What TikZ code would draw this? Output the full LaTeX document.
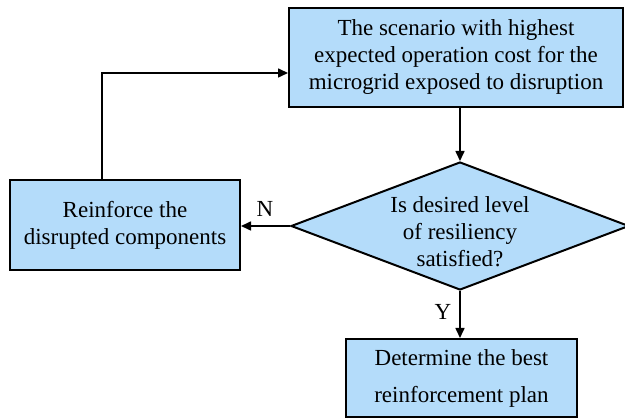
\documentclass[tikz,border=0pt]{standalone}
\usepackage{fontspec}
\setmainfont{Liberation Serif}
\usetikzlibrary{arrows.meta,shapes.geometric,calc}
\definecolor{boxblue}{RGB}{180,220,250}
\begin{document}
\begin{tikzpicture}[x=1pt,y=-1pt,
  txt/.style={font=\fontsize{23}{27}\selectfont,align=center,inner sep=0pt},
  box/.style={draw=black,line width=2pt,fill=boxblue,txt},
  arr/.style={draw=black,line width=1.6pt,-{Triangle[length=10pt,width=9pt]}},
  lbl/.style={font=\fontsize{23}{27}\selectfont,inner sep=0pt}]
\useasboundingbox[fill=white] (0,0) rectangle (625,419);
\node[box,minimum width=334pt,minimum height=99pt] (A) at (456,57.5)
  {The scenario with highest\\expected operation cost for the\\microgrid exposed to disruption};
\node[box,minimum width=230pt,minimum height=90pt] (B) at (125,225)
  {Reinforce the\\disrupted components};
\node[diamond,draw=black,line width=2pt,fill=boxblue,minimum width=338pt,minimum height=128pt,inner sep=0pt] (d) at (460,226) {};
\node[txt] (dt) at (460,232) {Is desired level\\of resiliency\\satisfied?};
\node[box,minimum width=231pt,minimum height=78pt,font=\fontsize{23}{37}\selectfont] (D) at (461.5,378)
  {Determine the best\\reinforcement plan};
\draw[arr] (d.north |- A.south) -- (d.north);
\draw[arr] (d.west) -- (d.west -| B.east);
\node[lbl] (N) at (265,209) {N};
\draw[arr] ([xshift=-23pt]B.north) |- ([yshift=-15.5pt]A.west);
\draw[arr] (d.south) -- (d.south |- D.north);
\node[lbl] (Y) at (443,312) {Y};
\end{tikzpicture}
\end{document}
